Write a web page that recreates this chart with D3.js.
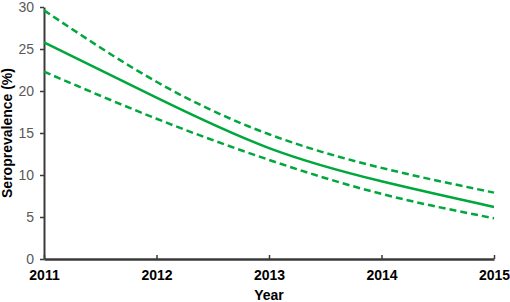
<!DOCTYPE html>
<html>
<head>
<meta charset="utf-8">
<script src="https://cdn.jsdelivr.net/npm/d3@7"></script>
<style>
  body { margin: 0; background: #fff; }
  svg text { font-family: "Liberation Sans", Arial, sans-serif; }
</style>
</head>
<body>
<div id="chart"></div>
<script>
// data
let years = [2011, 2012, 2013, 2014, 2015];
let estimate = [25.8, 19.2, 13.2, 9.25, 6.2];
let upperCI = [29.6, 21.1, 14.85, 10.85, 7.9];
let lowerCI = [22.3, 16.7, 11.8, 7.75, 4.85];
let yTicks = [0, 5, 10, 15, 20, 25, 30];

const width = 510;
const height = 302;
const margin_left = 44;
const margin_right = 16;
const margin_top = 7;
const margin_bottom = 43;
const green = "#00a73c";
const axisColor = "#3a3a3a";

let svg = d3.select("#chart")
  .append("svg")
  .attr("width", width)
  .attr("height", height);

let x_scale = d3.scaleLinear()
  .domain([2011, 2015])
  .range([margin_left, width - margin_right]);

let y_scale = d3.scaleLinear()
  .domain([0, 30])
  .range([height - margin_bottom, margin_top]);

// y axis
let yAxis = svg.append("g")
  .attr("transform", "translate(" + margin_left + ",0)")
  .call(d3.axisLeft(y_scale).tickValues(yTicks).tickSize(4).tickPadding(6).tickSizeOuter(0));
yAxis.select(".domain").attr("stroke", axisColor).attr("stroke-width", 2);
yAxis.selectAll(".tick line").attr("stroke", axisColor).attr("stroke-width", 1.5);
yAxis.selectAll("text")
  .attr("fill", "#595959")
  .style("font-size", "14px");

// x axis (ticks pointing inward)
let xAxis = svg.append("g")
  .attr("transform", "translate(0," + (height - margin_bottom) + ")")
  .call(d3.axisBottom(x_scale).tickValues(years).tickFormat(d3.format("d")).tickSize(-4).tickPadding(8).tickSizeOuter(0));
xAxis.select(".domain").attr("stroke", axisColor).attr("stroke-width", 2.5);
xAxis.selectAll(".tick line").attr("stroke", axisColor).attr("stroke-width", 1.5);
xAxis.selectAll("text")
  .attr("fill", "#000")
  .attr("dy", "0.95em")
  .style("font-size", "14px")
  .style("font-weight", "bold");

// axis titles
svg.append("text")
  .attr("x", (margin_left + width - margin_right) / 2)
  .attr("y", 300)
  .attr("text-anchor", "middle")
  .style("font-size", "14px")
  .style("font-weight", "bold")
  .text("Year");

svg.append("text")
  .attr("transform", "translate(12," + ((margin_top + height - margin_bottom) / 2) + ") rotate(-90)")
  .attr("text-anchor", "middle")
  .style("font-size", "14px")
  .style("font-weight", "bold")
  .text("Seroprevalence (%)");

// lines
let line = d3.line()
  .x((d, i) => x_scale(years[i]))
  .y(d => y_scale(d))
  .curve(d3.curveNatural);

svg.append("path")
  .datum(upperCI)
  .attr("d", line)
  .attr("fill", "none")
  .attr("stroke", green)
  .attr("stroke-width", 2.5)
  .attr("stroke-dasharray", "7,4");

svg.append("path")
  .datum(lowerCI)
  .attr("d", line)
  .attr("fill", "none")
  .attr("stroke", green)
  .attr("stroke-width", 2.5)
  .attr("stroke-dasharray", "7,4");

svg.append("path")
  .datum(estimate)
  .attr("d", line)
  .attr("fill", "none")
  .attr("stroke", green)
  .attr("stroke-width", 2.5);
</script>
</body>
</html>
